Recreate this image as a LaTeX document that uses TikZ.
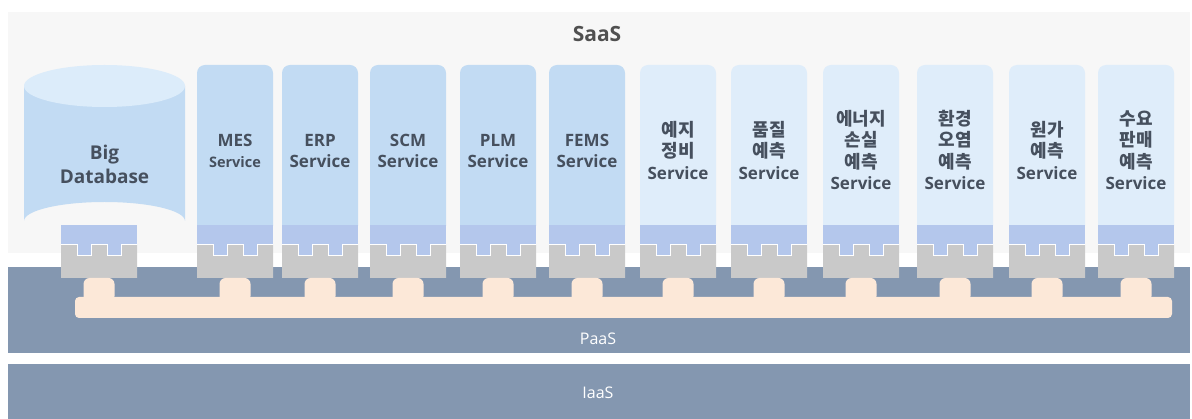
\documentclass[tikz,border=0pt]{standalone}
\usepackage{fontspec}
\setmainfont{Open Sans}
\newfontfamily\hangulfont{Noto Sans CJK KR}
\newcommand\hg[1]{{\hangulfont\bfseries\fontsize{18}{21.5}\selectfont #1}}

\definecolor{panel}{HTML}{F7F7F7}
\definecolor{layer}{HTML}{8497B0}
\definecolor{svcA}{HTML}{C2DBF3}
\definecolor{svcB}{HTML}{DFEDFA}
\definecolor{dbtop}{HTML}{DCECFA}
\definecolor{plugblue}{HTML}{B4C7EC}
\definecolor{socket}{HTML}{C9C9C9}
\definecolor{peach}{HTML}{FCE8D8}
\definecolor{txt}{HTML}{46505E}
\definecolor{ttl}{HTML}{505050}

\tikzset{
  svctext/.style={text=txt, align=center, inner sep=0pt,
    font=\fontsize{17}{21.5}\selectfont\bfseries},
  layertext/.style={text=white, inner sep=0pt, font=\fontsize{16}{19}\selectfont},
}

% plug, socket and bus knob below a box whose left edge is at #1
\newcommand\plugset[1]{%
  \fill[plugblue] (#1,225) rectangle (#1+76,245);
  \fill[plugblue] (#1+16,245) rectangle (#1+30,256);
  \fill[plugblue] (#1+46,245) rectangle (#1+60,256);
  \fill[socket] (#1,245) -- (#1+16,245) -- (#1+16,256) -- (#1+30,256) -- (#1+30,245)
    -- (#1+46,245) -- (#1+46,256) -- (#1+60,256) -- (#1+60,245) -- (#1+76,245)
    -- (#1+76,278) -- (#1,278) -- cycle;
  \draw[white, line width=1] (#1,245) -- (#1+16,245) -- (#1+16,256) -- (#1+30,256) -- (#1+30,245)
    -- (#1+46,245) -- (#1+46,256) -- (#1+60,256) -- (#1+60,245) -- (#1+76,245);
  \fill[peach, rounded corners=6] (#1+22.5,302) -- (#1+22.5,278) -- (#1+53.5,278) -- (#1+53.5,302) -- cycle;
}

% service box: left edge, fill colour
\newcommand\svcbox[2]{%
  \fill[#2] (#1,226) [rounded corners=8] -- (#1,65) -- (#1+76,65) [sharp corners] -- (#1+76,226) -- cycle;
  \plugset{#1}
}

\begin{document}
\begin{tikzpicture}[x=1pt, y=-1pt]
  \useasboundingbox (0,0) rectangle (1192,419);
  \fill[white] (0,0) rectangle (1192,419);

  % layers
  \fill[panel] (8,12) rectangle (1190,253);
  \fill[layer] (8,267) rectangle (1190,353);
  \fill[layer] (8,364) rectangle (1190,419);

  % database cylinder
  \fill[svcA] (24,86) -- (24,221) arc[start angle=180, end angle=360, x radius=80.5, y radius=19] -- (185,86) -- cycle;
  \fill[dbtop] (104.5,86) ellipse[x radius=80.5, y radius=21];
  \plugset{61}

  % service boxes
  \svcbox{197}{svcA}
  \svcbox{282}{svcA}
  \svcbox{370}{svcA}
  \svcbox{460}{svcA}
  \svcbox{549}{svcA}
  \svcbox{640}{svcB}
  \svcbox{731}{svcB}
  \svcbox{823}{svcB}
  \svcbox{917}{svcB}
  \svcbox{1009}{svcB}
  \svcbox{1098}{svcB}

  % bus bar
  \fill[peach, rounded corners=4] (75,297) rectangle (1172,318);

  % labels
  \node[text=ttl, inner sep=0pt, font=\fontsize{21}{25}\selectfont\bfseries] (saas) at (597,34) {SaaS};
  \node[layertext] (paas) at (598,339) {PaaS};
  \node[layertext] (iaas) at (598,393) {IaaS};

  \node[svctext, font=\fontsize{19}{24}\selectfont\bfseries] (db) at (104.5,164) {Big\\Database};
  \node[svctext] (mes) at (235,151) {MES\\{\fontsize{14.5}{18}\selectfont Service}};
  \node[svctext] (erp) at (320,151) {ERP\\Service};
  \node[svctext] (scm) at (408,151) {SCM\\Service};
  \node[svctext] (plm) at (498,151) {PLM\\Service};
  \node[svctext] (fems) at (587,151) {FEMS\\Service};
  \node[svctext] (pm) at (678,150) {\hg{예지}\\\hg{정비}\\Service};
  \node[svctext] (qp) at (769,150) {\hg{품질}\\\hg{예측}\\Service};
  \node[svctext] (ep) at (861,150) {\hg{에너지}\\\hg{손실}\\\hg{예측}\\Service};
  \node[svctext] (env) at (955,150) {\hg{환경}\\\hg{오염}\\\hg{예측}\\Service};
  \node[svctext] (cost) at (1047,150) {\hg{원가}\\\hg{예측}\\Service};
  \node[svctext] (dem) at (1136,150) {\hg{수요}\\\hg{판매}\\\hg{예측}\\Service};
\end{tikzpicture}
\end{document}
